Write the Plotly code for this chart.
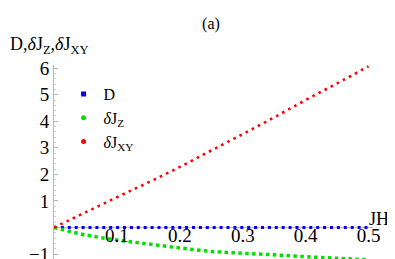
import plotly.graph_objects as go

# Data
JH = [0, 0.05, 0.1, 0.15, 0.2, 0.25, 0.3, 0.35, 0.4, 0.45, 0.5]
D = [0, 0, 0, 0, 0, 0, 0, 0, 0, 0, 0]
dJZ = [0, -0.28, -0.47, -0.62, -0.77, -0.90, -0.97, -1.03, -1.10, -1.16, -1.22]
dJXY = [0, 0.57, 1.14, 1.70, 2.28, 2.90, 3.52, 4.15, 4.80, 5.43, 6.07]

x_ticks = [0.1, 0.2, 0.3, 0.4, 0.5]
x_tick_text = ["0.1", "0.2", "0.3", "0.4", "0.5"]
y_ticks = [-1, 1, 2, 3, 4, 5, 6]
y_tick_text = ["\u22121", "1", "2", "3", "4", "5", "6"]

names = ["D", "<i>\u03b4</i>J<sub>Z</sub>", "<i>\u03b4</i>J<sub>XY</sub>"]
colors = ["#0000ff", "#00e000", "#ff0000"]
series = [D, dJZ, dJXY]
dashes = ["3px,3.9px", "3.5px,3.4px", "2.6px,4.3px"]
widths = [3, 3.5, 2.6]
shapes_ = ["linear", "spline", "spline"]
symbols = ["square", "circle", "circle"]

YMIN, YMAX = -1.45, 6.12
XMIN, XMAX = 0, 0.507
FONT = "Liberation Serif, Tinos, Times New Roman, DejaVu Serif, serif"

fig = go.Figure()
for name, col, ys, dash, w, sh in zip(names, colors, series, dashes, widths, shapes_):
    fig.add_trace(go.Scatter(x=JH, y=ys, mode="lines", line=dict(color=col, width=w, dash=dash, shape=sh),
                             showlegend=False, hoverinfo="skip"))
for name, col, sym in zip(names, colors, symbols):
    fig.add_trace(go.Scatter(x=[None], y=[None], mode="markers", name=name,
                             marker=dict(color=col, size=5, symbol=sym)))

# x tick labels sit just under the y=0 axis line (drawn as the y zero line)
label_pos = (0.22 - YMIN) / (YMAX - YMIN)
fig.update_layout(
    width=395, height=259,
    margin=dict(l=46, r=30, t=57, b=1),
    paper_bgcolor="white", plot_bgcolor="white",
    font=dict(family=FONT, size=18, color="black"),
    title=dict(text="(a)", x=203/395, xanchor="center", y=1-15/259, yanchor="middle",
               font=dict(family=FONT, size=16, color="black")),
    xaxis=dict(range=[XMIN, XMAX], showgrid=False, zeroline=False, showline=False,
               anchor="free", position=label_pos, tickvals=x_ticks, ticktext=x_tick_text,
               ticks="", tickfont=dict(family=FONT, size=19)),
    yaxis=dict(range=[YMIN, YMAX], showgrid=False, zeroline=True, zerolinecolor="#b8b8b8", zerolinewidth=1,
               showline=True, linecolor="#b8b8b8",
               linewidth=1, tickvals=y_ticks, ticktext=y_tick_text, ticks="inside", ticklen=4,
               tickcolor="#b8b8b8", tickfont=dict(family=FONT, size=19), layer="below traces",
               minor=dict(dtick=0.2, ticks="inside", ticklen=2, tickcolor="#d0d0d0")),
    legend=dict(x=0.03, y=0.94, xanchor="left", yanchor="top", bgcolor="rgba(0,0,0,0)",
                font=dict(family=FONT, size=16), itemwidth=30, tracegroupgap=0),
    annotations=[
        dict(text="JH", xref="paper", yref="y", x=1, y=0, xanchor="left", yanchor="middle",
             xshift=-6, yshift=9, showarrow=False, font=dict(family=FONT, size=18)),
        dict(text="D,<i>\u03b4</i>J<sub>Z</sub>,<i>\u03b4</i>J<sub>XY</sub>", xref="paper", yref="paper",
             x=0, y=1, xanchor="left", yanchor="bottom", xshift=-46, yshift=6, showarrow=False,
             font=dict(family=FONT, size=18)),
    ],
)
fig.write_html("out.html")
